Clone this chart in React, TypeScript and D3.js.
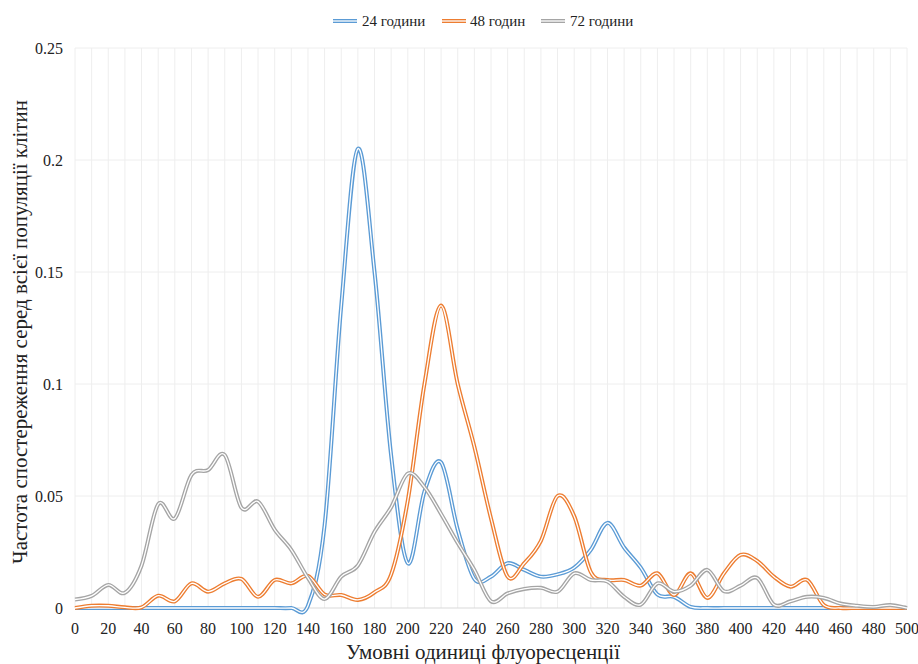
import React from "react";
import * as d3 from "d3";

const xValues = d3.range(0, 501, 10);
const seriesNames = ["24 години", "48 годин", "72 години"];
const seriesColors = ["#5B9BD5", "#ED7D31", "#A5A5A5"];

const blue = [
  0, 0, 0, 0, 0, 0, 0, 0, 0, 0, 0, 0, 0, 0, 0.001,
  0.037, 0.135, 0.205, 0.15, 0.068, 0.02, 0.052, 0.065, 0.035, 0.013,
  0.014, 0.02, 0.017, 0.014, 0.015, 0.018, 0.026, 0.038, 0.027, 0.018,
  0.006, 0.005, 0.0005, 0, 0, 0, 0, 0, 0, 0, 0, 0, 0, 0, 0, 0,
];
const orange = [
  0, 0.001, 0.001, 0.0003, 0.0003, 0.0055, 0.003, 0.011, 0.0073, 0.011,
  0.013, 0.005, 0.0125, 0.011, 0.0143, 0.006, 0.0058, 0.0036, 0.007, 0.015,
  0.048, 0.1, 0.135, 0.1, 0.072, 0.04, 0.014, 0.02, 0.03, 0.05,
  0.041, 0.016, 0.0125, 0.0125, 0.01, 0.0155, 0.0058, 0.0155, 0.0045, 0.0155,
  0.0237, 0.021, 0.014, 0.0095, 0.0125, 0.0013, 0, 0, 0, 0, 0,
];
const grey = [
  0.0038, 0.0054, 0.0103, 0.0068, 0.019, 0.0464, 0.04, 0.0594, 0.0616, 0.0683,
  0.0448, 0.0475, 0.035, 0.026, 0.0134, 0.004, 0.014, 0.019, 0.034, 0.045,
  0.06, 0.054, 0.042, 0.029, 0.017, 0.003, 0.0065, 0.0085, 0.009, 0.0073,
  0.0155, 0.0125, 0.0118, 0.005, 0.0015, 0.011, 0.0073, 0.01, 0.017, 0.0075,
  0.01, 0.0134, 0.0015, 0.003, 0.005, 0.0045, 0.002, 0.001, 0.0005, 0.0013, 0,
];
const seriesValues = [blue, orange, grey];
const yTicks = [0, 0.05, 0.1, 0.15, 0.2, 0.25];
const xTicks = d3.range(0, 501, 20);
const xGrid = d3.range(0, 501, 10);

const W = 918;
const H = 664;
const left = 75;
const right = 907;
const top = 48;
const bottom = 608;

const font = "'Liberation Serif', 'Times New Roman', serif";

export default function App() {
  const x = d3.scaleLinear().domain([0, 500]).range([left, right]);
  const y = d3.scaleLinear().domain([0, 0.25]).range([bottom, top]);
  const line = d3
    .line<number>()
    .x((_, i) => x(xValues[i]))
    .y((d) => y(d))
    .curve(d3.curveCardinal.tension(0));

  const legendItems = [
    { sx: 333, tx: 362 },
    { sx: 442, tx: 470 },
    { sx: 541, tx: 570 },
  ];

  return (
    <svg
      width={W}
      height={H}
      style={{ position: "absolute", left: 0, top: 0, background: "#fff" }}
    >
      <style>{`text { font-family: ${font}; }`}</style>
      <rect width={W} height={H} fill="#fff" />
      {xGrid.map((v) => (
        <line key={"gx" + v} x1={x(v)} x2={x(v)} y1={top} y2={bottom} stroke="#EEEEEE" strokeWidth={1} />
      ))}
      {yTicks.slice(1).map((v) => (
        <line key={"gy" + v} x1={left} x2={right} y1={y(v)} y2={y(v)} stroke="#EEEEEE" strokeWidth={1} />
      ))}
      <line x1={left} x2={right} y1={bottom} y2={bottom} stroke="#D9D9D9" strokeWidth={1} />
      {yTicks.map((v) => (
        <text key={"ty" + v} x={63} y={y(v)} textAnchor="end" dominantBaseline="central" fontSize={16} fill="#222">
          {v === 0 ? "0" : String(v)}
        </text>
      ))}
      {xTicks.map((v) => (
        <text key={"tx" + v} x={x(v)} y={628} textAnchor="middle" dominantBaseline="central" fontSize={16} fill="#222">
          {v}
        </text>
      ))}
      {seriesValues.map((vals, i) => (
        <g key={"s" + i}>
          <path d={line(vals) || ""} fill="none" stroke={seriesColors[i]} strokeWidth={4} strokeLinejoin="round" />
          <path d={line(vals) || ""} fill="none" stroke="#fff" strokeWidth={1.3} strokeLinejoin="round" />
        </g>
      ))}
      {legendItems.map((it, i) => (
        <g key={"l" + i}>
          <line x1={it.sx} x2={it.sx + 24} y1={21} y2={21} stroke={seriesColors[i]} strokeWidth={4} />
          <line x1={it.sx} x2={it.sx + 24} y1={21} y2={21} stroke="#fff" strokeWidth={1.3} />
          <text x={it.tx} y={21} dominantBaseline="central" fontSize={15} fill="#222">
            {seriesNames[i]}
          </text>
        </g>
      ))}
      <text x={483} y={652} textAnchor="middle" dominantBaseline="central" fontSize={21} fill="#222">
        Умовні одиниці флуоресценції
      </text>
      <text transform={`translate(20, 332) rotate(-90)`} textAnchor="middle" dominantBaseline="central" fontSize={21} fill="#222">
        Частота спостереження серед всієї популяції клітин
      </text>
    </svg>
  );
}
